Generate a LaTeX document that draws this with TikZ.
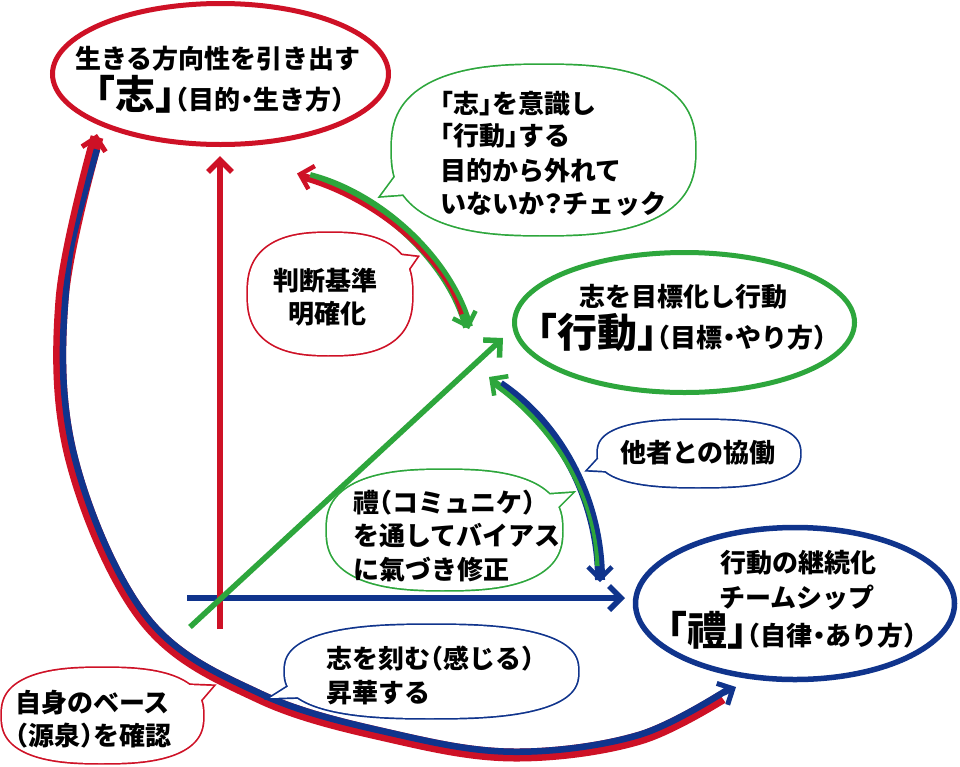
\documentclass[tikz,border=0pt]{standalone}
\usepackage{fontspec}
\setmainfont{Noto Sans CJK JP}[RawFeature={+halt}]
\usetikzlibrary{arrows.meta,shapes.geometric,calc}
\definecolor{rcol}{RGB}{206,17,38}
\definecolor{gcol}{RGB}{45,166,60}
\definecolor{bcol}{RGB}{16,52,140}
\newcommand\bigf{\fontsize{40}{40}\selectfont}
\newcommand\sqpath[4]{plot[domain=0.5:360.5,samples=121,variable=\t]({#1+#2*cos(\t)*abs(cos(\t))^(-0.23)},{#3+#4*sin(\t)*abs(sin(\t))^(-0.23)}) -- cycle}
\newcommand\bubble[8]{%
  \draw[#1,line width=3.4pt] \sqpath{#2}{#4}{#3}{#5};
  \draw[#1,line width=3.4pt] (#6) -- (#7) -- (#8) -- cycle;
  \fill[white] \sqpath{#2}{#4}{#3}{#5};
  \fill[white] (#6) -- (#7) -- (#8) -- cycle;}
\begin{document}
\begin{tikzpicture}[x=1pt,y=-1pt,
  txt/.style={inner sep=0pt,font=\bfseries\fontsize{26}{30}\selectfont,anchor=base},
  txtl/.style={txt,anchor=base west},
  ell/.style={ellipse,line width=5pt,inner sep=0pt},
  chev/.style={-{Straight Barb[length=12pt,width=24pt]}},
  arr/.style={line width=5.5pt,chev}]
\useasboundingbox (0,0) rectangle (960,766);
\fill[white] (0,0) rectangle (960,766);

% main ellipses
\node[ell,draw=rcol,minimum width=336pt,minimum height=141pt] (e1) at (220.5,74) {};
\node[ell,draw=gcol,minimum width=340pt,minimum height=140pt] (e2) at (684.5,322.5) {};
\node[ell,draw=bcol,line width=5.5pt,minimum width=319pt,minimum height=152pt] (e3) at (795,603.5) {};

% connector end points
\coordinate (vB) at (220,629); \coordinate (vT) at (220,156);
\coordinate (hL) at (187,598); \coordinate (hR) at (625,598);
\coordinate (dB) at (190,627); \coordinate (dT) at (503,338);
\coordinate (bcS) at (97,137); \coordinate (bcE) at (733,690);
\coordinate (bcT1) at (97,134); \coordinate (bcB1) at (94,148);
\coordinate (bcT2) at (736,687); \coordinate (bcB2) at (723.5,693.4);
\coordinate (rgS) at (298,174); \coordinate (rgE) at (468,327);
\coordinate (rgT1) at (297,173.5); \coordinate (rgB1) at (309.6,177);
\coordinate (rgT2) at (469,329); \coordinate (rgB2) at (465,317);
\coordinate (gbS) at (490,378); \coordinate (gbE) at (600,580);
\coordinate (gbT1) at (489,377); \coordinate (gbB1) at (500,385);
\coordinate (gbT2) at (600,582); \coordinate (gbB2) at (600,569);

% straight arrows
\draw[bcol,arr] (hL) -- (hR);
\draw[rcol,arr] (vB) -- (vT);
\draw[gcol,arr] (dB) -- (dT);

% big red/blue curve
\def\bigcurve{plot[smooth,tension=0.6] coordinates {(bcS) (62,300) (72,460) (145,620) (260,697) (394,737) (515,755) (640,738) (bcE)}}
\draw[rcol,line width=13pt,shorten >=16pt] \bigcurve;
\begin{scope}
  \clip \bigcurve -- cycle;
  \draw[bcol,line width=13pt,shorten <=12pt] \bigcurve;
\end{scope}
\draw[rcol,line width=5pt,chev] (bcB1) -- (bcT1);
\draw[bcol,line width=5pt,chev] (bcB2) -- (bcT2);

% red/green double arrow
\def\rgcurve{(rgS) .. controls (380,195) and (450,260) .. (rgE)}
\draw[gcol,line width=10pt,shorten <=12pt] \rgcurve;
\begin{scope}
  \clip \rgcurve -- cycle;
  \draw[rcol,line width=10pt,shorten >=14pt] \rgcurve;
\end{scope}
\draw[rcol,line width=4.5pt,chev] (rgB1) -- (rgT1);
\draw[gcol,line width=4.5pt,chev] (rgB2) -- (rgT2);

% green/blue double arrow
\def\gbcurve{(gbS) .. controls (560,425) and (600,500) .. (gbE)}
\draw[bcol,line width=10pt,shorten <=12pt] \gbcurve;
\begin{scope}
  \clip \gbcurve -- cycle;
  \draw[gcol,line width=10pt,shorten >=14pt] \gbcurve;
\end{scope}
\draw[gcol,line width=4.5pt,chev] (gbB1) -- (gbT1);
\draw[bcol,line width=4.5pt,chev] (gbB2) -- (gbT2);

% speech bubbles
\bubble{gcol}{543.5}{150}{151.5}{85}{409,158}{381,196}{435,192}
\bubble{rcol}{330}{294}{82}{61}{374.5,252}{417,257}{394.5,289.5}
\bubble{bcol}{699}{453.5}{101}{33.5}{610,446}{588,470}{626,472}
\bubble{gcol}{444.5}{530}{117.5}{60}{528.5,496}{572,493}{549.5,515.5}
\bubble{bcol}{431.5}{671.5}{146.5}{46.5}{308,674}{270,698}{336,696}
\bubble{rcol}{102.5}{715.5}{100.5}{47.5}{163,684}{213,686}{189,714}

% ellipse texts
\node[txt] (e1a) at (218,68) {生きる方向性を引き出す};
\node[txt] (e1b) at (220,109) {{\bigf 「志」}（目的・生き方）};
\node[txt] (e2a) at (683,306) {志を目標化し行動};
\node[txt] (e2b) at (682,347) {{\bigf 「行動」}（目標・やり方）};
\node[txt] (e3a) at (798,572) {行動の継続化};
\node[txt] (e3b) at (797,607) {チームシップ};
\node[txt] (e3c) at (792,645) {{\bigf 「禮」}（自律・あり方）};

% bubble texts
\node[txtl] (c1a) at (440,113) {「志」を意識し};
\node[txtl] (c1b) at (440,145) {「行動」する};
\node[txtl] (c1c) at (440,180) {目的から外れて};
\node[txtl] (c1d) at (440,213) {いないか\kern-4pt？\kern-4ptチェック};
\node[txt] (c2a) at (325,290) {判断基準};
\node[txt] (c2b) at (327,323) {明確化};
\node[txt] (c3a) at (698,462) {他者との協働};
\node[txtl] (c4a) at (353,512) {禮（コミュニケ）};
\node[txtl] (c4b) at (353,545) {を通してバイアス};
\node[txtl] (c4c) at (353,579) {に氣づき修正};
\node[txtl] (c5a) at (326,668) {志を刻む（感じる）};
\node[txtl] (c5b) at (326,702) {昇華する};
\node[txtl] (c6a) at (15,712) {自身のベース};
\node[txtl] (c6b) at (15,745) {（源泉）を確認};
\end{tikzpicture}
\end{document}
